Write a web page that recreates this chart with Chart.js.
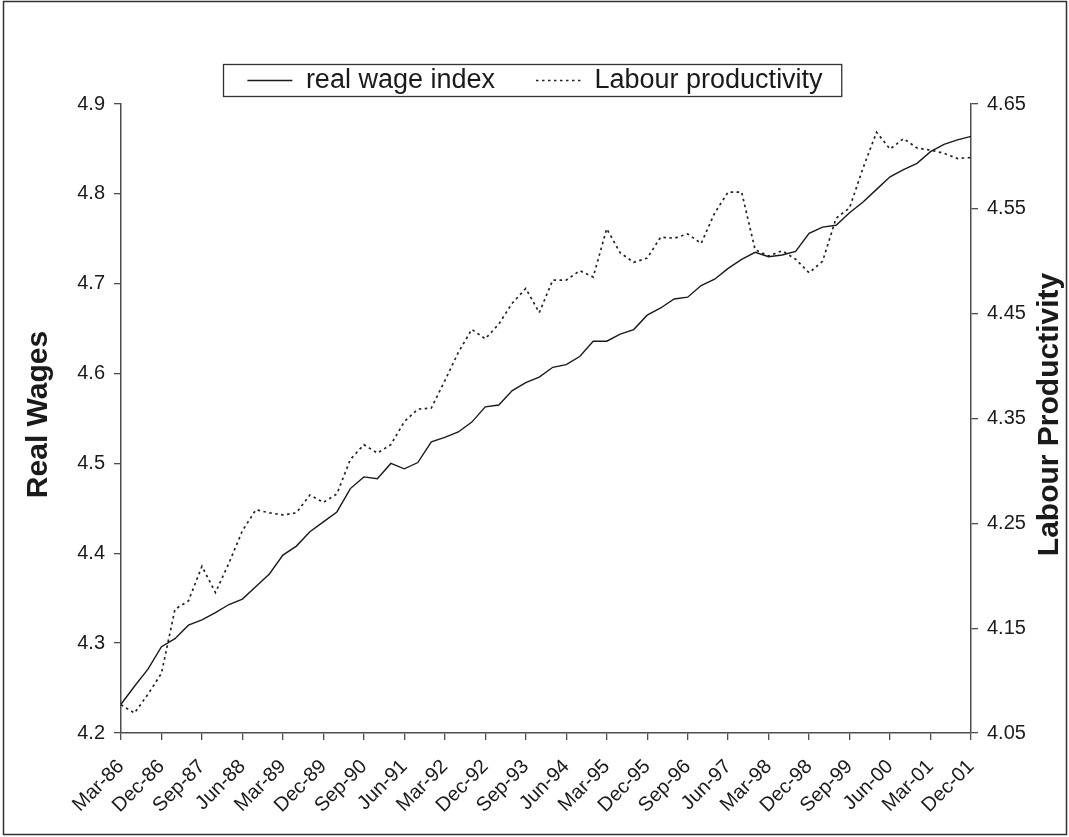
<!DOCTYPE html>
<html>
<head>
<meta charset="utf-8">
<title>Real wages and labour productivity</title>
<script src="https://cdn.jsdelivr.net/npm/chart.js@4.4.1/dist/chart.umd.min.js"></script>
<style>
  html, body { margin: 0; padding: 0; background: #fff; }
  canvas { display: block; }
</style>
</head>
<body>
<canvas id="wage_chart" width="1069" height="837"></canvas>
<script>

/**
 *
 * Data
 *
 */

// Quarterly observations, Mar-86 .. Dec-01
const QUARTERS = [
  'Mar-86', 'Jun-86', 'Sep-86', 'Dec-86', 'Mar-87', 'Jun-87', 'Sep-87', 'Dec-87',
  'Mar-88', 'Jun-88', 'Sep-88', 'Dec-88', 'Mar-89', 'Jun-89', 'Sep-89', 'Dec-89',
  'Mar-90', 'Jun-90', 'Sep-90', 'Dec-90', 'Mar-91', 'Jun-91', 'Sep-91', 'Dec-91',
  'Mar-92', 'Jun-92', 'Sep-92', 'Dec-92', 'Mar-93', 'Jun-93', 'Sep-93', 'Dec-93',
  'Mar-94', 'Jun-94', 'Sep-94', 'Dec-94', 'Mar-95', 'Jun-95', 'Sep-95', 'Dec-95',
  'Mar-96', 'Jun-96', 'Sep-96', 'Dec-96', 'Mar-97', 'Jun-97', 'Sep-97', 'Dec-97',
  'Mar-98', 'Jun-98', 'Sep-98', 'Dec-98', 'Mar-99', 'Jun-99', 'Sep-99', 'Dec-99',
  'Mar-00', 'Jun-00', 'Sep-00', 'Dec-00', 'Mar-01', 'Jun-01', 'Sep-01', 'Dec-01'
];

// log real wage index (left axis)
const REAL_WAGE_INDEX = [
  4.232, 4.252, 4.271, 4.296, 4.305, 4.320, 4.326, 4.334,
  4.343, 4.349, 4.363, 4.377, 4.398, 4.408, 4.424, 4.435,
  4.446, 4.472, 4.485, 4.483, 4.500, 4.494, 4.501, 4.524,
  4.529, 4.535, 4.546, 4.563, 4.565, 4.581, 4.590, 4.596,
  4.607, 4.610, 4.619, 4.636, 4.636, 4.644, 4.649, 4.665,
  4.673, 4.683, 4.685, 4.698, 4.705, 4.717, 4.727, 4.735,
  4.730, 4.732, 4.736, 4.756, 4.763, 4.765, 4.779, 4.791,
  4.805, 4.819, 4.827, 4.834, 4.847, 4.855, 4.860, 4.864
];

// log labour productivity (right axis)
const LABOUR_PRODUCTIVITY = [
  4.077, 4.069, 4.087, 4.107, 4.168, 4.176, 4.209, 4.184,
  4.212, 4.243, 4.263, 4.260, 4.258, 4.260, 4.277, 4.270,
  4.278, 4.311, 4.325, 4.317, 4.325, 4.347, 4.359, 4.360,
  4.386, 4.413, 4.435, 4.426, 4.440, 4.460, 4.474, 4.451,
  4.482, 4.482, 4.491, 4.485, 4.531, 4.508, 4.499, 4.503,
  4.523, 4.522, 4.526, 4.517, 4.546, 4.566, 4.566, 4.511,
  4.505, 4.510, 4.502, 4.489, 4.500, 4.541, 4.551, 4.589,
  4.623, 4.607, 4.617, 4.608, 4.606, 4.603, 4.598, 4.599
];

const WAGE_TICKS = [4.2, 4.3, 4.4, 4.5, 4.6, 4.7, 4.8, 4.9];
const PRODUCTIVITY_TICKS = [4.05, 4.15, 4.25, 4.35, 4.45, 4.55, 4.65];

/**
 *
 * Styling
 *
 */

const FONT_FAMILY = '"Liberation Sans", Arial, Helvetica, sans-serif';
const INK = '#1a1a1a';
const AXIS_GREY = '#4d4d4d';

/**
 *
 * Plugins
 *
 */

// White page, outer frame, boxed legend and the two axis titles
const frame_plugin = {
  id: 'frame',

  beforeDraw(chart) {
    const ctx = chart.ctx;
    ctx.save();
    ctx.fillStyle = '#fff';
    ctx.fillRect(0, 0, chart.width, chart.height);
    ctx.strokeStyle = '#333';
    ctx.lineWidth = 1.5;
    ctx.strokeRect(3.5, 1.5, chart.width - 6, chart.height - 4);
    ctx.restore();
  },

  afterDraw(chart) {
    const ctx = chart.ctx;
    const hit_boxes = chart.legend.legendHitBoxes;
    const area = chart.chartArea;

    ctx.save();

    //
    //
    // Box round the legend row
    if (hit_boxes && hit_boxes.length) {
      const first = hit_boxes[0];
      const last = hit_boxes[hit_boxes.length - 1];
      const left = first.left - 24;
      const right = last.left + last.width + 19;
      ctx.strokeStyle = '#333';
      ctx.lineWidth = 1.3;
      ctx.strokeRect(Math.round(left) + 0.5, first.top - 2.5, right - left, first.height + 5);
    }

    //
    //
    // Axis titles, both reading bottom to top
    const mid_y = (area.top + area.bottom) / 2 - 4;
    ctx.fillStyle = INK;
    ctx.font = 'bold 30px ' + FONT_FAMILY;
    ctx.textAlign = 'center';
    ctx.textBaseline = 'middle';

    ctx.save();
    ctx.translate(chart.scales.y.left + 33, mid_y);
    ctx.rotate(-Math.PI / 2);
    ctx.fillText('Real Wages', 0, 0);
    ctx.restore();

    ctx.save();
    ctx.translate(chart.scales.y1.right - 14, mid_y);
    ctx.rotate(-Math.PI / 2);
    ctx.fillText('Labour Productivity', 0, 0);
    ctx.restore();

    ctx.restore();
  }
};

/**
 *
 * Chart
 *
 */
class WageChart {

  /**
   * Constructor
   */
  constructor(canvas_id) {
    this.canvas_id = canvas_id;
    this.chart = null;
  }

  /**
   * Shared axis settings
   * @param fit_size
   * @param is_vertical
   */
  axisOptions(fit_size, is_vertical) {
    return {
      grid: {
        display: true,
        drawOnChartArea: false,
        drawTicks: true,
        tickLength: 7,
        color: AXIS_GREY,
        lineWidth: 1.3
      },
      border: {
        display: true,
        color: AXIS_GREY,
        width: 1.5
      },
      afterFit: (scale) => {
        if (is_vertical) {
          scale.width = fit_size;
        } else {
          scale.height = fit_size;
        }
      }
    };
  }

  /**
   * Legend items drawn as short line samples
   */
  legendLabels(chart) {
    return chart.data.datasets.map((dataset, index) => ({
      text: dataset.label,
      datasetIndex: index,
      hidden: false,
      fontColor: INK,
      fillStyle: dataset.borderColor,
      strokeStyle: dataset.borderColor,
      lineWidth: dataset.borderWidth,
      lineDash: dataset.borderDash || [],
      pointStyle: 'line'
    }));
  }

  /**
   * Draw Chart
   */
  drawChart() {
    let canvas_object = document.getElementById(this.canvas_id);
    if (!canvas_object) {
      return;
    }

    let tick_font = { family: FONT_FAMILY, size: 20 };

    let x_axis = Object.assign(this.axisOptions(99, false), {
      type: 'category',
      offset: false,
      ticks: {
        autoSkip: false,
        minRotation: 45,
        maxRotation: 45,
        padding: 15,
        color: INK,
        font: tick_font
      },
      // one labelled tick every three quarters
      afterBuildTicks: (scale) => {
        scale.ticks = scale.ticks.filter((tick) => tick.value % 3 === 0);
      }
    });

    let wage_axis = Object.assign(this.axisOptions(115, true), {
      position: 'left',
      min: WAGE_TICKS[0],
      max: WAGE_TICKS[WAGE_TICKS.length - 1],
      ticks: {
        padding: 9,
        color: INK,
        font: tick_font,
        callback: (value) => Number(value).toFixed(1)
      },
      afterBuildTicks: (scale) => {
        scale.ticks = WAGE_TICKS.map((value) => ({ value: value }));
      }
    });

    let productivity_axis = Object.assign(this.axisOptions(93, true), {
      position: 'right',
      min: PRODUCTIVITY_TICKS[0],
      max: PRODUCTIVITY_TICKS[PRODUCTIVITY_TICKS.length - 1],
      ticks: {
        padding: 9,
        color: INK,
        font: tick_font,
        callback: (value) => Number(value).toFixed(2)
      },
      afterBuildTicks: (scale) => {
        scale.ticks = PRODUCTIVITY_TICKS.map((value) => ({ value: value }));
      }
    });

    this.chart = new Chart(canvas_object.getContext('2d'), {
      type: 'line',
      data: {
        labels: QUARTERS,
        datasets: [{
          label: 'real wage index',
          data: REAL_WAGE_INDEX,
          yAxisID: 'y',
          borderColor: INK,
          borderWidth: 1.4,
          pointRadius: 0,
          tension: 0,
          fill: false
        }, {
          label: 'Labour productivity',
          data: LABOUR_PRODUCTIVITY,
          yAxisID: 'y1',
          borderColor: '#222',
          borderWidth: 1.7,
          borderDash: [2.5, 3.5],
          pointRadius: 0,
          tension: 0,
          fill: false
        }]
      },
      options: {
        responsive: false,
        animation: false,
        devicePixelRatio: 1,
        layout: {
          padding: { top: 26, left: 6, right: 5, bottom: 5 }
        },
        plugins: {
          tooltip: { enabled: false },
          legend: {
            display: true,
            position: 'top',
            align: 'center',
            labels: {
              usePointStyle: true,
              pointStyleWidth: 45,
              padding: 41,
              color: INK,
              font: { family: FONT_FAMILY, size: 27 },
              generateLabels: (chart) => this.legendLabels(chart)
            }
          }
        },
        scales: {
          x: x_axis,
          y: wage_axis,
          y1: productivity_axis
        }
      },
      plugins: [frame_plugin]
    });
  }

}

//
//
// Draw the chart
let wage_chart = new WageChart('wage_chart');
wage_chart.drawChart();

</script>
</body>
</html>
